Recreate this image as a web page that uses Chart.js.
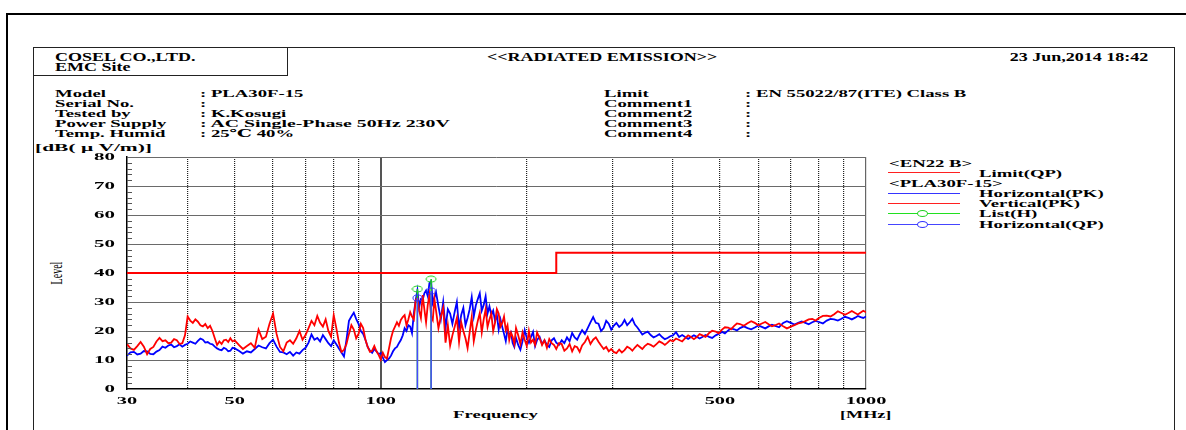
<!DOCTYPE html>
<html>
<head>
<meta charset="utf-8">
<script src="https://cdn.jsdelivr.net/npm/chart.js@4.4.1/dist/chart.umd.min.js"></script>
<style>
  html, body { margin: 0; padding: 0; background: #fff; }
  body { width: 1186px; height: 430px; position: relative; overflow: hidden;
         font-family: "Liberation Serif", "DejaVu Serif", serif; font-weight: bold; color: #000; }
  #chart { position: absolute; left: 0; top: 0; }
  .t { position: absolute; white-space: pre; font-size: 11px; line-height: 11px;
       transform-origin: 0 50%; transform: scaleX(1.7); }
  .h { font-size: 12px; line-height: 12px; transform: scaleX(1.5); }
  .ln { position: absolute; height: 1px; }
</style>
</head>
<body>
<!-- frames -->
<div style="position:absolute;left:6px;top:13px;width:1190px;height:430px;border-left:2px solid #000;border-top:2px solid #000;"></div>
<div style="position:absolute;left:33px;top:47px;width:1140px;height:400px;border:1px solid #222;"></div>
<div style="position:absolute;left:33px;top:47px;width:254px;height:28px;border-right:1px solid #222;border-bottom:1px solid #222;"></div>

<!-- header -->
<div class="t h" style="left:55px;top:51px;">COSEL CO.,LTD.</div>
<div class="t h" style="left:55px;top:61px;">EMC Site</div>
<div class="t h" style="left:487px;top:51px;">&lt;&lt;RADIATED EMISSION&gt;&gt;</div>
<div class="t h" style="right:38px;top:51px;transform-origin:100% 50%;">23 Jun,2014 18:42</div>

<!-- info -->
<div class="t" style="left:55px;top:87.5px;">Model</div>
<div class="t" style="left:55px;top:97.5px;">Serial No.</div>
<div class="t" style="left:55px;top:107.5px;">Tested by</div>
<div class="t" style="left:55px;top:117.5px;">Power Supply</div>
<div class="t" style="left:55px;top:127.5px;">Temp. Humid</div>
<div class="t" style="left:200px;top:87.5px;">: PLA30F-15</div>
<div class="t" style="left:200px;top:97.5px;">:</div>
<div class="t" style="left:200px;top:107.5px;">: K.Kosugi</div>
<div class="t" style="left:200px;top:117.5px;transform:scaleX(1.8);">: AC Single-Phase 50Hz 230V</div>
<div class="t" style="left:200px;top:127.5px;">: 25℃ 40%</div>
<div class="t" style="left:604px;top:87.5px;">Limit</div>
<div class="t" style="left:604px;top:97.5px;">Comment1</div>
<div class="t" style="left:604px;top:107.5px;">Comment2</div>
<div class="t" style="left:604px;top:117.5px;">Comment3</div>
<div class="t" style="left:604px;top:127.5px;">Comment4</div>
<div class="t" style="left:745px;top:87.5px;">: EN 55022/87(ITE) Class B</div>
<div class="t" style="left:745px;top:97.5px;">:</div>
<div class="t" style="left:745px;top:107.5px;">:</div>
<div class="t" style="left:745px;top:117.5px;">:</div>
<div class="t" style="left:745px;top:127.5px;">:</div>

<!-- axis texts -->
<div class="t" style="left:35px;top:141.5px;transform:scaleX(1.95);">[dB( μ V/m)]</div>
<div class="t" style="left:57px;top:273px;font-weight:normal;font-size:10px;line-height:10px;transform-origin:50% 50%;transform:translate(-50%,-50%) scaleX(1.6) rotate(-90deg);">Level</div>
<div class="t" style="left:453px;top:408.5px;">Frequency</div>
<div class="t" style="left:840px;top:408.5px;transform:scaleX(1.65);">[MHz]</div>

<!-- legend -->
<div class="t" style="left:889px;top:157.5px;">&lt;EN22 B&gt;</div>
<div class="ln" style="left:888px;top:172px;width:72px;background:#ff2020;"></div>
<div class="t" style="left:979px;top:167.5px;">Limit(QP)</div>
<div class="t" style="left:889px;top:177.5px;">&lt;PLA30F-15&gt;</div>
<div class="ln" style="left:888px;top:193px;width:72px;background:#3535ff;"></div>
<div class="t" style="left:979px;top:187.5px;">Horizontal(PK)</div>
<div class="ln" style="left:888px;top:203px;width:72px;background:#ff2020;"></div>
<div class="t" style="left:979px;top:197.5px;">Vertical(PK)</div>
<div class="ln" style="left:888px;top:213px;width:72px;background:#20e020;"></div>
<div style="position:absolute;left:917px;top:210px;width:9px;height:5px;border:1px solid #20d020;border-radius:50%;background:#fff;"></div>
<div class="t" style="left:979px;top:207.5px;">List(H)</div>
<div class="ln" style="left:888px;top:224px;width:72px;background:#4545ff;"></div>
<div style="position:absolute;left:917px;top:221px;width:9px;height:5px;border:1px solid #3030ff;border-radius:50%;background:#fff;"></div>
<div class="t" style="left:979px;top:218.5px;">Horizontal(QP)</div>

<canvas id="chart" width="1186" height="430"></canvas>

<script>
// frequency points [MHz]
const freqMHz = [
  30,30.5,31,31.5,32,32.5,33,33.5,34,34.5,35,35.5,36,36.5,37,37.5,38,38.5,39,39.5,40,40.5,41,41.5,42,42.5,43,43.5,44,44.5,45,45.5,46,46.5,47,47.5,48,48.5,49,49.5,50,
  51,52,53,54,55,56,57,58,59,60,61,62,63,64,65,66,67,68,69,70,71,72,73,74,75,76,77,78,79,80,81,82,83,84,85,86,87,88,89,90,91,92,93,94,95,96,97,98,99,100,
  101,102,103,104,105,106,107,108,109,110,111,112,113,114,115,116,117,118,119,120,121,122,123,124,125,126,127,128,129,130,
  131.5,133,134.5,136,137.5,139,140.5,142,143.5,145,146.5,148,149.5,151,152.5,154,155.5,157,158.5,160,161.5,163,164.5,166,167.5,169,170.5,172,173.5,175,176.5,178,179.5,181,182.5,184,185.5,187,188.5,190,
  192,194,196,198,200,202,204,206,208,210,212.5,215,217.5,220,222.5,225,227.5,230,
  233,236,239,242,245,248,251,254,257,260,263.5,267,270.5,274,277.5,281,284.5,288,291.5,295,298.5,302,
  306,310,314,318,322,326,330,334,338,342,346,350,355,360,365,370,375,380,385,390,395,400,
  406,412,418,424,430,436,442,448,454,460,467,475,482,490,497,505,512,520,527,535,542,550,560,570,580,590,600,610,620,630,640,650,662,675,687,700,712,725,737,750,762,775,787,800,815,830,845,860,875,890,905,920,935,950,962,975,987,1000];

// Vertical(PK) [dBuV/m]
const verticalPK = [
  15.5,14.0,13.5,14.8,16.2,14.6,12.0,13.8,14.5,16.4,17.6,16.5,16.8,15.8,16.0,17.2,16.8,15.5,15.8,18.5,25.0,23.6,22.8,24.0,23.2,22.0,21.6,22.4,21.0,21.8,20.0,17.5,15.2,16.4,15.5,16.8,17.0,16.2,17.5,16.4,16.8,
  15.2,13.8,14.8,15.8,14.2,20.5,17.2,18.0,22.5,26.0,19.0,14.5,13.0,16.0,16.8,15.6,17.5,20.0,17.0,18.6,21.0,23.5,22.0,25.2,22.8,21.5,24.0,20.0,18.0,25.5,21.0,16.0,12.8,13.5,15.5,19.0,22.0,20.5,17.5,19.0,22.5,21.0,17.0,14.5,12.8,13.2,14.8,13.0,11.8,10.2,
  12.5,11.0,10.5,14.0,17.5,20.0,21.5,23.0,21.8,23.8,24.8,25.5,22.0,24.0,26.5,25.0,24.0,30.5,31.5,27.0,24.5,32.4,27.5,23.0,29.0,32.4,25.0,23.8,31.0,27.0,
  21.0,25.0,28.0,16.0,22.0,15.0,18.5,21.4,24.5,16.2,23.0,20.0,17.5,14.1,19.5,24.8,16.5,20.3,23.5,26.2,19.5,24.0,27.5,21.4,24.0,26.0,20.0,22.8,27.5,26.0,21.5,22.8,25.0,20.3,22.0,16.9,19.5,18.0,15.5,21.0,
  18.5,15.5,19.5,17.0,14.8,20.0,16.0,17.0,15.2,19.5,17.5,15.2,16.8,14.2,17.2,15.8,15.2,13.8,
  15.8,15.5,13.2,14.0,15.5,13.0,14.8,14.4,12.8,15.0,16.2,18.0,15.5,17.0,17.8,16.3,15.0,13.8,14.5,13.0,13.8,12.8,
  12.4,13.6,12.6,13.4,14.6,14.1,13.2,14.3,15.2,14.5,13.8,14.8,15.6,15.2,14.6,15.5,16.4,15.9,15.2,16.0,16.9,16.4,
  17.4,16.9,16.4,17.5,18.5,17.9,17.2,17.9,18.9,18.5,18.0,19.3,20.1,19.8,19.2,20.5,21.3,21.2,20.6,21.8,22.6,22.4,21.8,22.7,23.4,22.8,22.0,22.6,23.1,22.3,21.6,22.0,22.6,21.6,20.9,21.5,22.0,22.6,22.9,23.4,24.0,24.2,23.6,24.5,25.2,25.3,25.0,25.8,26.8,26.2,25.6,26.2,26.9,26.2,25.7,26.4,27.0,26.5];

// Horizontal(PK) [dBuV/m]
const horizontalPK = [
  11.5,12.6,12.8,11.9,12.2,13.1,13.0,12.1,12.0,12.9,13.4,14.6,14.2,15.0,15.3,14.4,14.8,15.4,14.6,15.2,15.6,16.4,16.0,15.6,16.6,17.4,17.0,16.0,16.2,15.6,15.4,14.6,14.0,13.6,13.4,14.2,13.8,13.0,13.2,14.2,14.0,
  13.2,12.2,13.0,12.6,13.8,15.0,14.4,14.0,15.8,17.0,14.6,12.8,12.6,12.0,12.8,11.5,12.6,12.2,13.4,14.2,16.0,18.8,17.0,17.6,16.4,18.6,17.2,15.8,14.8,16.8,15.4,14.0,12.6,11.2,17.0,23.5,25.0,26.3,24.2,22.5,20.0,19.0,17.0,14.5,13.2,12.5,13.8,13.0,12.0,12.4,
  10.8,9.3,10.0,10.5,11.5,13.0,14.0,14.5,15.8,16.9,18.5,21.0,20.0,22.0,21.5,19.3,26.0,30.5,34.0,28.3,31.0,30.7,33.0,34.0,32.0,36.5,37.2,29.7,31.5,33.4,
  28.5,24.0,30.0,21.0,27.5,26.0,22.5,26.5,30.0,21.0,25.5,28.0,22.0,24.5,27.5,31.7,25.0,28.8,31.0,33.0,27.0,29.0,32.0,26.0,28.5,25.5,27.0,23.5,25.5,20.5,24.0,21.4,19.0,16.5,20.5,18.6,19.5,15.9,14.5,17.6,
  15.2,13.5,16.5,20.3,17.5,15.9,18.0,19.7,14.8,16.9,18.0,15.5,16.8,15.2,14.5,16.8,17.5,16.0,
  15.2,16.8,15.8,17.8,16.5,19.3,17.8,17.0,18.8,20.3,19.0,21.0,23.0,24.8,22.8,22.5,20.0,21.0,23.5,22.5,20.5,21.8,
  22.8,21.4,22.2,23.8,22.0,23.0,24.2,22.2,21.2,20.0,18.8,19.3,19.8,18.6,17.8,18.3,18.9,17.9,17.2,17.6,18.2,18.5,
  19.6,17.9,18.6,17.9,17.3,17.9,18.5,18.0,17.4,17.9,18.6,18.0,17.6,18.5,19.0,19.7,19.2,20.2,20.9,20.6,20.2,21.0,21.6,21.0,20.6,21.2,21.9,21.4,20.9,21.6,22.2,21.8,21.3,22.8,23.4,22.8,22.2,22.8,23.3,22.8,22.3,23.0,23.5,23.1,22.6,23.6,24.2,24.0,23.6,24.2,24.9,24.5,24.0,24.6,25.2,24.8,24.5,25.0];

// limit EN 55022 class B (QP)
const limitFreq = [30, 230, 230, 1000];
const limitQP = [40, 40, 47, 47];

// list / QP points
const listFreq = [119, 127];
const listPeak = [34.5, 37.9];
const horizontalQP = [31.4, 33.8];

// axes
const xGridValues = [30,40,50,60,70,80,90,100,200,300,400,500,600,700,800,900,1000];
const xTickLabels = [30, 50, 100, 500, 1000];
const yTickLabels = [0, 10, 20, 30, 40, 50, 60, 70, 80];
const yMinorTicks = [2,4,6,8,12,14,16,18,22,24,26,28,32,34,36,38,42,44,46,48,52,54,56,58,62,64,66,68,72,74,76,78];

function pts(xs, ys) {
  return xs.map((v, i) => ({ x: v, y: ys[i] }));
}

function stems(xs, ys) {
  const out = [];
  xs.forEach((v, i) => {
    out.push({ x: v, y: 0 }, { x: v, y: ys[i] }, { x: v, y: null });
  });
  return out;
}

function ellipseMark(color, w, h) {
  const c = document.createElement('canvas');
  c.width = w + 2;
  c.height = h + 2;
  const g = c.getContext('2d');
  g.strokeStyle = color;
  g.lineWidth = 1;
  g.beginPath();
  g.ellipse(c.width / 2, c.height / 2, w / 2, h / 2, 0, 0, Math.PI * 2);
  g.stroke();
  return c;
}

// tick labels are stretched like the original print, minor ticks inside left axis
const printTicks = {
  id: 'printTicks',
  afterDraw(chart) {
    const { ctx, chartArea } = chart;
    const x = chart.scales.x, y = chart.scales.y;
    ctx.save();
    ctx.fillStyle = '#000';
    ctx.font = 'bold 11px "Liberation Serif"';
    ctx.textBaseline = 'middle';
    yTickLabels.forEach(v => {
      ctx.save();
      ctx.translate(chartArea.left - 12, y.getPixelForValue(v));
      ctx.scale(1.9, 1);
      ctx.textAlign = 'right';
      ctx.fillText(String(v), 0, 0);
      ctx.restore();
    });
    xTickLabels.forEach(v => {
      ctx.save();
      ctx.translate(x.getPixelForValue(v), chartArea.bottom + 12);
      ctx.scale(1.85, 1);
      ctx.textAlign = 'center';
      ctx.fillText(String(v), 0, 0);
      ctx.restore();
    });
    ctx.strokeStyle = '#555';
    ctx.lineWidth = 1;
    yMinorTicks.forEach(v => {
      const py = Math.round(y.getPixelForValue(v)) + 0.5;
      ctx.beginPath();
      ctx.moveTo(chartArea.left, py);
      ctx.lineTo(chartArea.left + 5, py);
      ctx.stroke();
    });
    ctx.restore();
  }
};

new Chart(document.getElementById('chart'), {
  type: 'line',
  data: {
    datasets: [
      {
        label: 'Horizontal(QP)',
        data: pts(listFreq, horizontalQP),
        showLine: false,
        pointStyle: ellipseMark('#3030ff', 9, 6),
        pointRadius: 5
      },
      {
        label: 'List(H)',
        data: pts(listFreq, listPeak),
        showLine: false,
        pointStyle: ellipseMark('#20d020', 10, 6),
        pointRadius: 5
      },
      {
        label: 'QP stems',
        data: stems(listFreq, horizontalQP),
        borderColor: '#4848ff',
        borderWidth: 1.5,
        pointRadius: 0,
        spanGaps: false
      },
      {
        label: 'List stems',
        data: stems(listFreq, listPeak),
        borderColor: '#20d020',
        borderWidth: 1.5,
        pointRadius: 0,
        spanGaps: false
      },
      {
        label: 'Vertical(PK)',
        data: pts(freqMHz, verticalPK),
        borderColor: '#ff0000',
        borderWidth: 1.8,
        pointRadius: 0,
        tension: 0
      },
      {
        label: 'Horizontal(PK)',
        data: pts(freqMHz, horizontalPK),
        borderColor: '#0000ff',
        borderWidth: 1.8,
        pointRadius: 0,
        tension: 0
      },
      {
        label: 'Limit(QP)',
        data: pts(limitFreq, limitQP),
        borderColor: '#ff0000',
        borderWidth: 2,
        pointRadius: 0,
        tension: 0
      }
    ]
  },
  options: {
    responsive: false,
    animation: false,
    events: [],
    layout: { padding: { left: 127, top: 157, right: 320, bottom: 41 } },
    scales: {
      x: {
        type: 'logarithmic',
        min: 30,
        max: 1000,
        afterBuildTicks: (axis) => { axis.ticks = xGridValues.map(v => ({ value: v })); },
        afterFit: (axis) => { axis.height = 0; },
        ticks: { display: false },
        grid: {
          drawTicks: false,
          color: (c) => {
            const v = c.tick ? c.tick.value : 0;
            if (v === 30) return 'rgba(0,0,0,0)';
            if (v === 100) return '#555';
            if (v === 1000) return '#666';
            return '#222';
          },
          lineWidth: (c) => (c.tick && c.tick.value === 100) ? 2 : 1.2
        },
        border: {
          color: '#000',
          width: 1.5,
          dash: (c) => (c.tick && [30, 100, 1000].indexOf(c.tick.value) < 0) ? [1, 1] : []
        }
      },
      y: {
        min: 0,
        max: 80,
        afterBuildTicks: (axis) => { axis.ticks = yTickLabels.map(v => ({ value: v })); },
        afterFit: (axis) => { axis.width = 0; },
        ticks: { display: false },
        grid: {
          drawTicks: false,
          color: (c) => (c.tick && c.tick.value === 0) ? 'rgba(0,0,0,0)' : '#6a6a6a',
          lineWidth: 1
        },
        border: { color: '#000', width: 1.5 }
      }
    },
    plugins: {
      legend: { display: false },
      tooltip: { enabled: false }
    }
  },
  plugins: [printTicks]
});
</script>
</body>
</html>
